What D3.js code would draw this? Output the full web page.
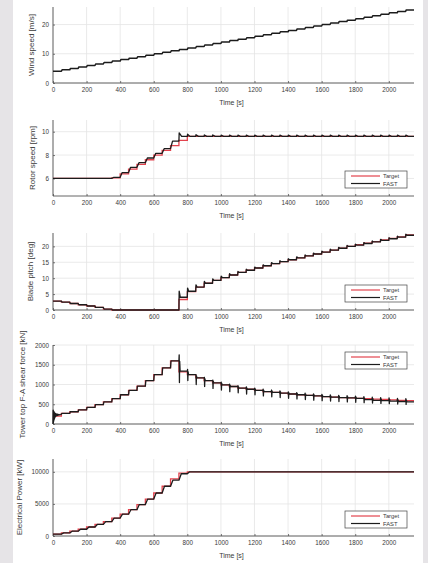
<!DOCTYPE html>
<html>
<head>
<meta charset="utf-8">
<script src="https://cdn.jsdelivr.net/npm/d3@7"></script>
<style>
  html, body { margin: 0; padding: 0; background: #e6e4e7; }
  svg { display: block; }
  text { font-family: "Liberation Sans", Arial, sans-serif; fill: #3a3a3a; }
</style>
</head>
<body>
<svg id="chart" width="428" height="563"></svg>
<script>
// ---------------- DATA ----------------
const stepTimes = [0,50,100,150,200,250,300,350,400,450,500,550,600,650,700,750,800,850,900,950,1000,1050,1100,1150,1200,1250,1300,1350,1400,1450,1500,1550,1600,1650,1700,1750,1800,1850,1900,1950,2000,2050,2100];
const endTime = 2150;
const xTicks = [0,200,400,600,800,1000,1200,1400,1600,1800,2000];

const windSpeed = [4,4.5,5,5.5,6,6.5,7,7.5,8,8.5,9,9.5,10,10.5,11,11.5,12,12.5,13,13.5,14,14.5,15,15.5,16,16.5,17,17.5,18,18.5,19,19.5,20,20.5,21,21.5,22,22.5,23,23.5,24,24.5,25];

const rotorTarget = [6,6,6,6,6,6,6,6.05,6.4,6.8,7.2,7.6,8.0,8.4,8.8,9.25,9.6,9.6,9.6,9.6,9.6,9.6,9.6,9.6,9.6,9.6,9.6,9.6,9.6,9.6,9.6,9.6,9.6,9.6,9.6,9.6,9.6,9.6,9.6,9.6,9.6,9.6,9.6];
const rotorFast   = [6,6,6,6,6,6,6,6.1,6.5,6.95,7.35,7.75,8.15,8.55,9.2,9.6,9.6,9.6,9.6,9.6,9.6,9.6,9.6,9.6,9.6,9.6,9.6,9.6,9.6,9.6,9.6,9.6,9.6,9.6,9.6,9.6,9.6,9.6,9.6,9.6,9.6,9.6,9.6];
const rotorFastPeak = [null,null,null,null,null,null,null,null,null,null,null,null,null,null,null,9.9,9.78,9.74,9.72,9.72,9.71,9.71,9.7,9.7,9.7,9.7,9.7,9.7,9.7,9.7,9.7,9.7,9.7,9.7,9.7,9.7,9.7,9.7,9.7,9.7,9.7,9.7,9.7];

const pitchTarget = [2.8,2.45,2.05,1.65,1.25,0.8,0.3,0,0,0,0,0,0,0,0,3.3,5.8,7.2,8.4,9.3,10.2,11.0,11.8,12.5,13.2,13.9,14.6,15.2,15.8,16.4,17.0,17.6,18.2,18.8,19.4,20.0,20.5,21.0,21.5,22.0,22.5,23.0,23.6];
const pitchFast   = [2.8,2.45,2.05,1.65,1.25,0.8,0.3,0,0,0,0,0,0,0,0,4.0,5.9,7.2,8.4,9.3,10.2,11.0,11.8,12.5,13.2,13.9,14.6,15.2,15.8,16.4,17.0,17.6,18.2,18.8,19.4,20.0,20.4,20.9,21.4,21.9,22.4,22.9,23.5];
const pitchFastPeak = [null,null,null,null,null,null,null,null,null,null,null,null,null,null,null,5.9,6.9,7.9,9.0,9.8,10.6,11.4,12.1,12.8,13.5,14.2,14.9,15.5,16.1,16.7,17.3,17.9,18.5,19.1,19.7,20.3,20.7,21.2,21.7,22.2,22.7,23.2,23.8];

const shearTarget = [200,270,310,360,420,490,560,640,740,850,960,1100,1250,1420,1600,1320,1250,1170,1100,1040,990,950,910,880,850,820,800,780,760,740,725,710,695,680,670,660,650,640,630,620,610,600,590];
const shearFast   = [250,270,310,360,420,490,560,640,740,850,960,1100,1250,1420,1600,1340,1250,1170,1100,1040,990,950,910,880,850,820,800,780,760,740,725,710,695,680,670,660,650,615,600,590,580,570,560];
const shearFastHigh = [null,null,null,null,null,null,null,null,null,null,null,null,null,null,null,1750,1380,1250,1180,1110,1060,1010,970,940,910,880,860,840,815,795,780,765,750,735,725,715,705,690,680,670,660,650,640];
const shearFastLow  = [null,null,null,null,null,null,null,null,null,null,null,null,null,null,null,1050,1100,1000,950,900,860,820,790,760,740,710,690,670,650,635,620,605,590,580,570,560,550,540,530,520,515,505,495];
const shearStartT = [0,1,2,3,4,5,6,7,8,9,10,11,12,13,14,15,16,17,18,19,20,22,24,26,28,30,33,36,40,45,50];
const shearStartV = [0,350,40,330,70,320,100,300,130,290,150,280,170,270,185,265,195,260,205,255,210,250,215,248,220,245,228,242,232,240,250];

const powerTarget = [300,480,750,1050,1400,1800,2250,2800,3400,4100,4900,5750,6700,7750,8900,9800,10000,10000,10000,10000,10000,10000,10000,10000,10000,10000,10000,10000,10000,10000,10000,10000,10000,10000,10000,10000,10000,10000,10000,10000,10000,10000,10000];
const powerFast   = [300,480,750,1050,1400,1800,2250,2800,3400,4100,4900,5750,6700,7750,8700,9700,10000,10000,10000,10000,10000,10000,10000,10000,10000,10000,10000,10000,10000,10000,10000,10000,10000,10000,10000,10000,10000,10000,10000,10000,10000,10000,10000];

const seriesNames = ["Target", "FAST"];

// ---------------- LAYOUT ----------------
const svg = d3.select("#chart");
svg.append("rect").attr("x", 13).attr("y", 0).attr("width", 410).attr("height", 563).attr("fill", "#ffffff");

const RED = "#e3434e", BLACK = "#1c1c1c";
const x = d3.scaleLinear().domain([0, endTime]).range([53, 414]);

function targetPts(vals) {
  const p = stepTimes.map((t, i) => [t, vals[i]]);
  p.push([endTime, vals[vals.length - 1]]);
  return p;
}
function fastPts(vals, lag, hi, lo) {
  const p = [[stepTimes[0], vals[0]]];
  for (let i = 1; i < stepTimes.length; i++) {
    const t = stepTimes[i];
    p.push([t, vals[i - 1]]);
    if (hi && hi[i] != null) {
      p.push([t + 1.5, hi[i]]);
      if (lo && lo[i] != null) { p.push([t + 3, lo[i]]); p.push([t + 4.5, hi[i] - (hi[i]-vals[i])*0.4]); }
      p.push([t + lag + 4, vals[i]]);
    } else {
      p.push([t + lag, vals[i]]);
    }
  }
  p.push([endTime, vals[vals.length - 1]]);
  return p;
}

const panels = [
  { top: 7,   bottom: 83,  domain: [0, 26],     yTicks: [0,10,20],               label: "Wind speed [m/s]",              labelX: 34,  legend: null },
  { top: 120, bottom: 196, domain: [4.5, 11],   yTicks: [6,8,10],                label: "Rotor speed [rpm]",             labelX: 34.5, legend: "bottom" },
  { top: 233, bottom: 310, domain: [0, 24.2],   yTicks: [0,5,10,15,20],          label: "Blade pitch [deg]",             labelX: 33,  legend: "bottom" },
  { top: 345, bottom: 424, domain: [0, 2000],   yTicks: [0,500,1000,1500,2000],  label: "Tower top F-A shear force [kN]", labelX: 25,  legend: "top" },
  { top: 459, bottom: 536, domain: [0, 12000],  yTicks: [0,5000,10000],          label: "Electrical Power [kW]",         labelX: 22,  legend: "bottom" }
];

const lineData = [
  { target: null, fast: fastPts(windSpeed, 4) },
  { target: targetPts(rotorTarget), fast: fastPts(rotorFast, 12, rotorFastPeak, null) },
  { target: targetPts(pitchTarget), fast: fastPts(pitchFast, 4, pitchFastPeak, null) },
  { target: targetPts(shearTarget), fast: null },
  { target: targetPts(powerTarget), fast: fastPts(powerFast, 14) }
];
// shear FAST with initial transient
(function () {
  const p = shearStartT.map((t, i) => [t, shearStartV[i]]);
  const rest = fastPts(shearFast, 3, shearFastHigh, shearFastLow).filter(d => d[0] > 50);
  lineData[3].fast = p.concat(rest);
})();

panels.forEach((P, k) => {
  const y = d3.scaleLinear().domain(P.domain).range([P.bottom, P.top]);
  const g = svg.append("g");

  // grid
  g.append("g").selectAll("line.vg").data(xTicks).join("line")
    .attr("x1", d => x(d)).attr("x2", d => x(d)).attr("y1", P.top).attr("y2", P.bottom)
    .attr("stroke", "#e4e4e4").attr("stroke-width", 0.8);
  g.append("g").selectAll("line.hg").data(P.yTicks).join("line")
    .attr("x1", x(0)).attr("x2", x(endTime)).attr("y1", d => y(d)).attr("y2", d => y(d))
    .attr("stroke", "#e4e4e4").attr("stroke-width", 0.8);

  // axes
  const xAxis = d3.axisBottom(x).tickValues(xTicks).tickSizeInner(-2).tickSizeOuter(0).tickPadding(5).tickFormat(d3.format("d"));
  const gx = g.append("g").attr("transform", `translate(0,${P.bottom})`).call(xAxis);
  const yAxis = d3.axisLeft(y).tickValues(P.yTicks).tickSizeInner(-2).tickSizeOuter(0).tickPadding(4).tickFormat(d3.format("d"));
  const gy = g.append("g").attr("transform", `translate(${x(0)},0)`).call(yAxis);
  [gx, gy].forEach(a => {
    a.select(".domain").attr("stroke", "#555").attr("stroke-width", 0.9);
    a.selectAll(".tick line").attr("stroke", "#555").attr("stroke-width", 0.8);
    a.selectAll(".tick text").attr("font-size", 6.3).attr("fill", "#444").attr("font-family", "Liberation Sans, Arial, sans-serif");
  });
  gy.select(".domain").attr("d", `M0,${P.bottom}V${P.top}`);
  gx.select(".domain").attr("d", `M${x(0)},0H${x(endTime)}`);

  // labels
  g.append("text").attr("x", (x(0) + x(endTime)) / 2 - 2).attr("y", P.bottom + 22)
    .attr("text-anchor", "middle").attr("font-size", 7).text("Time [s]");
  g.append("text").attr("transform", `translate(${P.labelX},${(P.top + P.bottom) / 2}) rotate(-90)`)
    .attr("text-anchor", "middle").attr("font-size", 8).text(P.label);

  const line = d3.line().x(d => x(d[0])).y(d => y(d[1]));
  const D = lineData[k];
  if (D.target) {
    g.append("path").attr("d", line.curve(d3.curveStepAfter)(D.target))
      .attr("fill", "none").attr("stroke", RED).attr("stroke-width", 1.3);
  }
  if (D.fast) {
    g.append("path").attr("d", d3.line().x(d => x(d[0])).y(d => y(d[1]))(D.fast))
      .attr("fill", "none").attr("stroke", BLACK).attr("stroke-width", k === 0 ? 1.5 : 1.3).attr("stroke-linejoin", "round");
  }

  // legend
  if (P.legend) {
    const lw = 62, lh = 17;
    const lx = 345;
    const ly = P.legend === "top" ? P.top + 7 : P.bottom - 8 - lh;
    const lg = g.append("g").attr("transform", `translate(${lx},${ly})`);
    lg.append("rect").attr("width", lw).attr("height", lh).attr("fill", "#fff").attr("stroke", "#444").attr("stroke-width", 0.7);
    seriesNames.forEach((name, i) => {
      const yy = 5 + i * 7.5;
      lg.append("line").attr("x1", 6).attr("x2", 35).attr("y1", yy).attr("y2", yy)
        .attr("stroke", i === 0 ? RED : BLACK).attr("stroke-width", 1.2);
      lg.append("text").attr("x", 38).attr("y", yy).attr("dy", "0.35em").attr("font-size", 5.8).text(name);
    });
  }
});
</script>
</body>
</html>
